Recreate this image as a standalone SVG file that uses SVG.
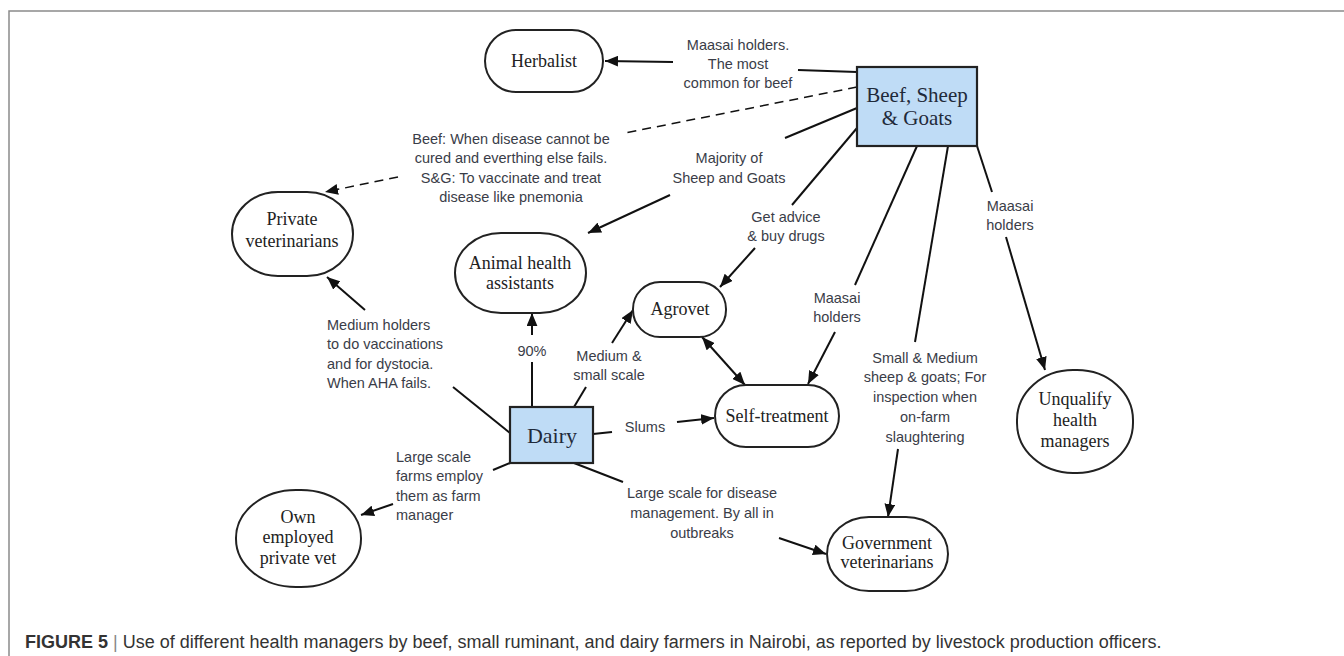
<svg xmlns="http://www.w3.org/2000/svg" width="1344" height="656" viewBox="0 0 1344 656">
  <defs>
    <marker id="ah" viewBox="0 0 12 10" refX="12" refY="5" markerWidth="13" markerHeight="11" markerUnits="userSpaceOnUse" orient="auto-start-reverse">
      <path d="M0,0 L12,5 L0,10 z" fill="#111"/>
    </marker>
    <style>
      .frame{fill:none;stroke:#8a8a8a;stroke-width:1.5}
      .node{fill:#fff;stroke:#222;stroke-width:2}
      .box{fill:#bfdcf6;stroke:#222;stroke-width:2.2}
      .nt{font-family:"Liberation Serif","Times New Roman",serif;font-size:18px;fill:#222;text-anchor:middle}
      .bt{font-family:"Liberation Serif","Times New Roman",serif;font-size:21px;fill:#1f2a3a;text-anchor:middle}
      .lb{font-family:"Liberation Sans",Arial,sans-serif;font-size:14.5px;fill:#3a3d48}
      .m{text-anchor:middle}
      .c{fill:none;stroke:#111;stroke-width:2}
      .a{marker-end:url(#ah)}
      .d{stroke-dasharray:9 6;stroke-width:1.5}
      .cap{font-family:"Liberation Sans",Arial,sans-serif;font-size:18px;fill:#333}
    </style>
  </defs>
  <rect x="0" y="0" width="1344" height="656" fill="#fff"/>
  <path class="frame" d="M9,656 L9,11 L1344,11"/>

  <g id="connectors">
    <line class="c" x1="857" y1="72" x2="798" y2="70"/>
    <line class="c a" x1="673" y1="62" x2="605" y2="61"/>
    <line class="c d" x1="857" y1="87" x2="625" y2="133"/>
    <line class="c d a" x1="398" y1="177" x2="325" y2="192"/>
    <line class="c" x1="857" y1="108" x2="785" y2="138"/>
    <line class="c a" x1="670" y1="195" x2="588" y2="233"/>
    <line class="c" x1="857" y1="128" x2="792" y2="205"/>
    <line class="c a" x1="755" y1="248" x2="720" y2="287"/>
    <line class="c" x1="917" y1="146" x2="855" y2="285"/>
    <line class="c a" x1="835" y1="332" x2="808" y2="384"/>
    <line class="c" x1="948" y1="146" x2="915" y2="342"/>
    <line class="c a" x1="898" y1="449" x2="888" y2="517"/>
    <line class="c" x1="977" y1="146" x2="992" y2="192"/>
    <line class="c a" x1="1006" y1="237" x2="1045" y2="370"/>
    <line class="c a" x1="745" y1="385" x2="702" y2="337" style="marker-start:url(#ah)"/>
    <line class="c" x1="532" y1="407" x2="532" y2="362"/>
    <line class="c a" x1="532" y1="335" x2="532" y2="313"/>
    <line class="c" x1="574" y1="407" x2="586" y2="387"/>
    <line class="c a" x1="612" y1="343" x2="633" y2="310"/>
    <line class="c" x1="510" y1="433" x2="453" y2="387"/>
    <line class="c a" x1="365" y1="310" x2="327" y2="277"/>
    <line class="c" x1="593" y1="434" x2="612" y2="432"/>
    <line class="c a" x1="677" y1="422" x2="714" y2="418"/>
    <line class="c" x1="510" y1="463" x2="493" y2="470"/>
    <line class="c a" x1="393" y1="504" x2="361" y2="515"/>
    <line class="c" x1="574" y1="463" x2="623" y2="482"/>
    <line class="c a" x1="779" y1="538" x2="826" y2="554"/>
  </g>

  <g id="labels">
    <text class="lb m"><tspan x="738" y="50">Maasai holders.</tspan><tspan x="738" y="69">The most</tspan><tspan x="738" y="88">common for beef</tspan></text>
    <text class="lb m"><tspan x="511" y="144">Beef: When disease cannot be</tspan><tspan x="511" y="163">cured and everthing else fails.</tspan><tspan x="511" y="183">S&amp;G: To vaccinate and treat</tspan><tspan x="511" y="202">disease like pnemonia</tspan></text>
    <text class="lb m"><tspan x="729" y="163">Majority of</tspan><tspan x="729" y="183">Sheep and Goats</tspan></text>
    <text class="lb m"><tspan x="786" y="222">Get advice</tspan><tspan x="786" y="241">&amp; buy drugs</tspan></text>
    <text class="lb m"><tspan x="837" y="303">Maasai</tspan><tspan x="837" y="322">holders</tspan></text>
    <text class="lb m"><tspan x="925" y="363">Small &amp; Medium</tspan><tspan x="925" y="382">sheep &amp; goats; For</tspan><tspan x="925" y="402">inspection when</tspan><tspan x="925" y="422">on-farm</tspan><tspan x="925" y="442">slaughtering</tspan></text>
    <text class="lb m"><tspan x="1010" y="211">Maasai</tspan><tspan x="1010" y="230">holders</tspan></text>
    <text class="lb m" x="532" y="356">90%</text>
    <text class="lb m"><tspan x="609" y="361">Medium &amp;</tspan><tspan x="609" y="380">small scale</tspan></text>
    <text class="lb"><tspan x="327" y="330">Medium holders</tspan><tspan x="327" y="349">to do vaccinations</tspan><tspan x="327" y="369">and for dystocia.</tspan><tspan x="327" y="388">When AHA fails.</tspan></text>
    <text class="lb m" x="645" y="432">Slums</text>
    <text class="lb"><tspan x="396" y="462">Large scale</tspan><tspan x="396" y="481">farms employ</tspan><tspan x="396" y="501">them as farm</tspan><tspan x="396" y="520">manager</tspan></text>
    <text class="lb m"><tspan x="702" y="498">Large scale for disease</tspan><tspan x="702" y="518">management. By all in</tspan><tspan x="702" y="538">outbreaks</tspan></text>
  </g>

  <g id="beef-sheep-goats">
    <rect class="box" x="857" y="67" width="120" height="79"/>
    <text class="bt"><tspan x="917" y="102">Beef, Sheep</tspan><tspan x="917" y="125">&amp; Goats</tspan></text>
  </g>
  <g id="dairy">
    <rect class="box" x="510" y="407" width="83" height="56"/>
    <text class="bt" x="552" y="443" style="font-size:22px">Dairy</text>
  </g>
  <g id="herbalist">
    <rect class="node" x="485" y="30" width="118" height="62" rx="31" ry="31"/>
    <text class="nt" x="544" y="67">Herbalist</text>
  </g>
  <g id="private-veterinarians">
    <rect class="node" x="232" y="192" width="121" height="84" rx="46" ry="42"/>
    <text class="nt"><tspan x="292" y="225">Private</tspan><tspan x="292" y="247">veterinarians</tspan></text>
  </g>
  <g id="animal-health-assistants">
    <rect class="node" x="455" y="233" width="131" height="80" rx="46" ry="40"/>
    <text class="nt"><tspan x="520" y="269">Animal health</tspan><tspan x="520" y="289">assistants</tspan></text>
  </g>
  <g id="agrovet">
    <rect class="node" x="633" y="282" width="93" height="55" rx="27" ry="27"/>
    <text class="nt" x="680" y="315">Agrovet</text>
  </g>
  <g id="self-treatment">
    <rect class="node" x="715" y="385" width="124" height="62" rx="31" ry="31"/>
    <text class="nt" x="777" y="422">Self-treatment</text>
  </g>
  <g id="unqualify-health-managers">
    <rect class="node" x="1017" y="370" width="116" height="103" rx="56" ry="50"/>
    <text class="nt"><tspan x="1075" y="405">Unqualify</tspan><tspan x="1075" y="426">health</tspan><tspan x="1075" y="447">managers</tspan></text>
  </g>
  <g id="government-veterinarians">
    <rect class="node" x="827" y="517" width="121" height="74" rx="42" ry="37"/>
    <text class="nt"><tspan x="887" y="549">Government</tspan><tspan x="887" y="568">veterinarians</tspan></text>
  </g>
  <g id="own-employed-private-vet">
    <rect class="node" x="236" y="490" width="125" height="97" rx="60" ry="48"/>
    <text class="nt"><tspan x="298" y="523">Own</tspan><tspan x="298" y="543">employed</tspan><tspan x="298" y="564">private vet</tspan></text>
  </g>

  <text class="cap" x="25" y="648"><tspan font-weight="bold">FIGURE 5</tspan><tspan fill="#888"> | </tspan><tspan>Use of different health managers by beef, small ruminant, and dairy farmers in Nairobi, as reported by livestock production officers.</tspan></text>
</svg>
